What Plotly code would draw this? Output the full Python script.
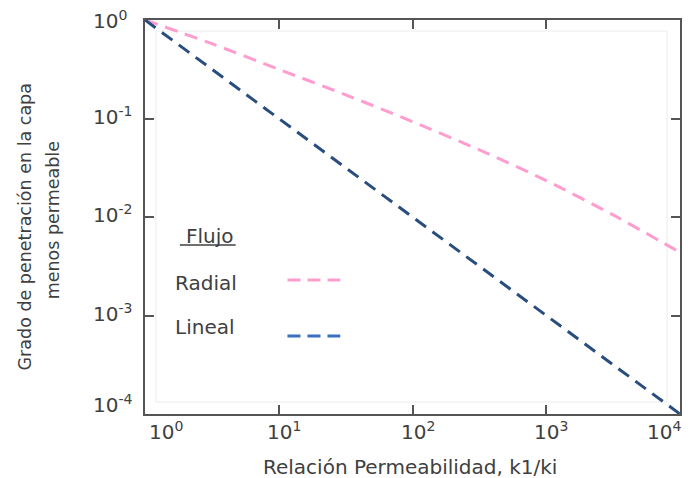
import math
import plotly.graph_objects as go

# Permeability ratio k1/ki and penetration degree into the less permeable layer
perm_ratio_radial = [1, 3.16, 10, 31.6, 100, 316, 1000, 3160, 10000]
penetration_radial = [1.0, 0.575, 0.316, 0.174, 0.093, 0.048, 0.0234, 0.0105, 0.00437]

perm_ratio_lineal = [1, 10, 100, 1000, 10000]
penetration_lineal = [1.0, 0.1, 0.01, 0.001, 0.0001]

x_tick_vals = [1, 10, 100, 1000, 10000]
x_tick_text = ["10<sup>0</sup>", "10<sup>1</sup>", "10<sup>2</sup>", "10<sup>3</sup>", "10<sup>4</sup>"]
y_tick_vals = [1, 0.1, 0.01, 0.001, 0.0001]
y_tick_text = ["10<sup>0</sup>", "10<sup>-1</sup>", "10<sup>-2</sup>", "10<sup>-3</sup>", "10<sup>-4</sup>"]

PINK = "#ff9dcf"
NAVY = "#284d7e"
LEGEND_BLUE = "#3b70bf"
AXIS = "#555555"
TEXT = "#404040"
FONT = "DejaVu Sans"

W, H = 692, 478
L, R, T, B = 145, 10, 20, 64
PW, PH = W - L - R, H - T - B


def px(xp):
    return (xp - L) / PW


def py(yp):
    return (H - B - yp) / PH


fig = go.Figure()
fig.add_trace(go.Scatter(
    x=perm_ratio_radial, y=penetration_radial, mode="lines",
    line=dict(color=PINK, width=3, dash="13px,8px", shape="spline", smoothing=0.8),
    name="Radial", showlegend=False, hoverinfo="skip"))
fig.add_trace(go.Scatter(
    x=perm_ratio_lineal, y=penetration_lineal, mode="lines",
    line=dict(color=NAVY, width=3, dash="13px,8px"),
    name="Lineal", showlegend=False, hoverinfo="skip"))

axis_common = dict(
    type="log", showgrid=False, zeroline=False, showline=True, linecolor=AXIS,
    linewidth=2, mirror="ticks", ticks="inside", ticklen=9, tickwidth=2,
    tickcolor=AXIS, showticklabels=False)
fig.update_xaxes(range=[0, 4], tickvals=x_tick_vals, **axis_common)
fig.update_yaxes(range=[-4, 0], tickvals=y_tick_vals, **axis_common)

ann = []
# x tick labels
n = len(x_tick_vals)
for i, (v, t) in enumerate(zip(x_tick_vals, x_tick_text)):
    if i == 0:
        anchor, shift = "left", 2
    elif i == n - 1:
        anchor, shift = "right", 3
    else:
        anchor, shift = "center", 5
    ann.append(dict(x=math.log10(v), xref="x", y=py(431), yref="paper",
                    text=t, showarrow=False, xanchor=anchor, yanchor="middle",
                    xshift=shift, font=dict(family=FONT, size=20, color=TEXT)))
# y tick labels
for i, (v, t) in enumerate(zip(y_tick_vals, y_tick_text)):
    shift = 10 if i == len(y_tick_vals) - 1 else (0 if i == 0 else 3)
    ann.append(dict(x=px(91), xref="paper", y=math.log10(v), yref="y",
                    text=t, showarrow=False, xanchor="left", yanchor="middle",
                    yshift=shift, font=dict(family=FONT, size=20, color=TEXT)))

# axis titles
ann.append(dict(x=px(411), xref="paper", y=py(467), yref="paper",
                text="Relación Permeabilidad, k1/ki", showarrow=False,
                xanchor="center", yanchor="middle",
                font=dict(family=FONT, size=20, color=TEXT)))
ann.append(dict(x=px(25), xref="paper", y=py(227), yref="paper",
                text="Grado de penetración en la capa", showarrow=False,
                textangle=-90, xanchor="center", yanchor="middle",
                font=dict(family=FONT, size=17.5, color=TEXT)))
ann.append(dict(x=px(53), xref="paper", y=py(220), yref="paper",
                text="menos permeable", showarrow=False,
                textangle=-90, xanchor="center", yanchor="middle",
                font=dict(family=FONT, size=17.5, color=TEXT)))

# legend block
ann.append(dict(x=px(184), xref="paper", y=py(236), yref="paper", text="Flujo",
                showarrow=False, xanchor="left", yanchor="middle",
                font=dict(family=FONT, size=20, color=TEXT)))
ann.append(dict(x=px(173), xref="paper", y=py(283), yref="paper", text="Radial",
                showarrow=False, xanchor="left", yanchor="middle",
                font=dict(family=FONT, size=20, color=TEXT)))
ann.append(dict(x=px(173), xref="paper", y=py(327), yref="paper", text="Lineal",
                showarrow=False, xanchor="left", yanchor="middle",
                font=dict(family=FONT, size=20, color=TEXT)))

shapes = [
    # faint inner frame
    dict(type="rect", xref="paper", yref="paper", x0=px(156), x1=px(669),
         y0=py(402), y1=py(31), line=dict(color="#ececec", width=1), layer="below"),
    # underline of the legend heading
    dict(type="line", xref="paper", yref="paper", x0=px(180), x1=px(236),
         y0=py(245), y1=py(245), line=dict(color=TEXT, width=1.5)),
    # legend line samples
    dict(type="line", xref="paper", yref="paper", x0=px(288), x1=px(341),
         y0=py(280), y1=py(280), line=dict(color=PINK, width=3, dash="13px,7px")),
    dict(type="line", xref="paper", yref="paper", x0=px(288), x1=px(341),
         y0=py(336), y1=py(336), line=dict(color=LEGEND_BLUE, width=3, dash="13px,7px")),
]

fig.update_layout(
    width=W, height=H, margin=dict(l=L, r=R, t=T, b=B),
    paper_bgcolor="white", plot_bgcolor="white",
    annotations=ann, shapes=shapes, showlegend=False)

fig.write_html("out.html")
